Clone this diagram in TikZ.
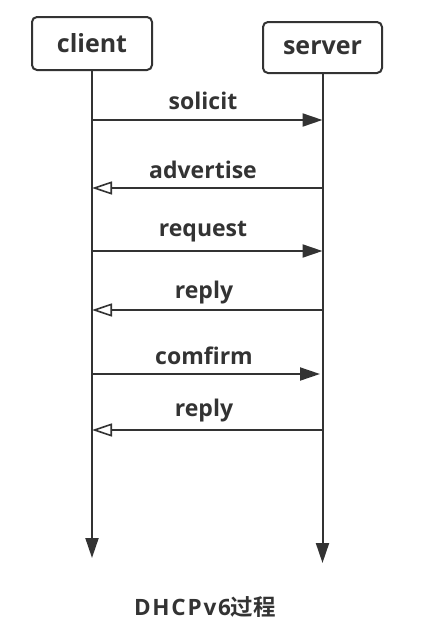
\documentclass[tikz,border=0pt]{standalone}
\usepackage{fontspec}
\setmainfont{Open Sans}[BoldFont={Open Sans Bold}]
\newfontfamily\cjkfont{Noto Sans CJK SC}[BoldFont={Noto Sans CJK SC Bold}]
\usetikzlibrary{arrows.meta}
\definecolor{ink}{HTML}{333333}
\begin{document}
\begin{tikzpicture}[x=1pt,y=-1pt,
  actor/.style={draw=ink, line width=2pt, rounded corners=5pt, inner sep=0pt, font=\bfseries\fontsize{25}{28}\selectfont, text=ink},
  life/.style={draw=ink, line width=2pt, -{Triangle[length=20pt,width=13pt]}},
  msgsend/.style={draw=ink, line width=2pt, -{Triangle[length=20pt,width=13pt]}},
  msgback/.style={draw=ink, line width=2pt, -{Triangle[open,length=20pt,width=13pt,line width=1.6pt]}},
  msglabel/.style={font=\bfseries\fontsize{23}{26}\selectfont, text=ink, inner sep=0pt}]
\useasboundingbox (0,0) rectangle (426,632);
\node[actor, minimum width=120pt, minimum height=53pt] (client) at (92,43.5) {client};
\node[actor, minimum width=119pt, minimum height=51pt] (server) at (322.5,47.5) {server};
\coordinate (cend) at (92,558);
\coordinate (send) at (322.5,563);
\draw[life] (client.south) -- (cend);
\draw[life] (server.south) -- (send);
% message endpoints
\coordinate (c1) at (92,120); \coordinate (s1) at (322.5,120);
\coordinate (c2) at (92,188); \coordinate (s2) at (322.5,188);
\coordinate (c3) at (92,251); \coordinate (s3) at (322.5,251);
\coordinate (c4) at (92,310); \coordinate (s4) at (322.5,310);
\coordinate (c5) at (92,374); \coordinate (s5) at (320,374);
\coordinate (c6) at (92,430); \coordinate (s6) at (322.5,430);
\draw[msgsend] (c1) -- (s1);
\draw[msgback] (s2) -- (c2);
\draw[msgsend] (c3) -- (s3);
\draw[msgback] (s4) -- (c4);
\draw[msgsend] (c5) -- (s5);
\draw[msgback] (s6) -- (c6);
\node[msglabel] (l1) at (203,101) {solicit};
\node[msglabel] (l2) at (203,170) {advertise};
\node[msglabel] (l3) at (203,232) {request};
\node[msglabel] (l4) at (204,293) {reply};
\node[msglabel] (l5) at (204,356) {comfirm};
\node[msglabel] (l6) at (204,411) {reply};
\node[font=\bfseries\fontsize{22.5}{25}\selectfont, text=ink, inner sep=0pt] (title) at (205,607) {\addfontfeature{LetterSpace=8}DHCPv6{\cjkfont\bfseries 过程}};
\end{tikzpicture}
\end{document}
